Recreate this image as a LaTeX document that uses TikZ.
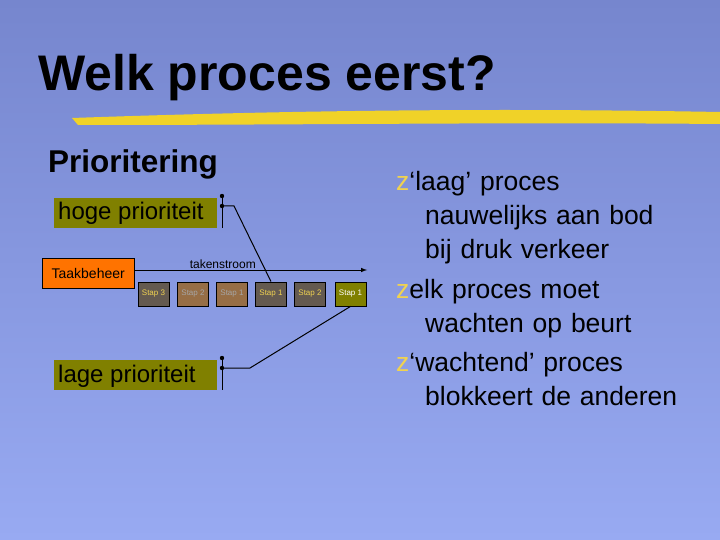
\documentclass[tikz,border=0pt]{standalone}
\usepackage{fontspec}
\setmainfont{Liberation Sans}
\begin{document}
\begin{tikzpicture}[x=1pt,y=-1pt,
 olive/.style={fill=olivebox,inner sep=0,anchor=north west},
 stapbox/.style={draw=black,line width=0.8pt,minimum width=31pt,minimum height=24pt,inner sep=0,font=\fontsize{8}{9}\selectfont},
 wire/.style={line width=1pt}]
\definecolor{bgtop}{RGB}{118,134,206}
\definecolor{bgbot}{RGB}{152,170,242}
\definecolor{olivebox}{RGB}{128,128,0}
\definecolor{stapgrey}{RGB}{100,90,80}
\definecolor{stapbrown}{RGB}{150,110,70}
\definecolor{stapyel}{RGB}{240,210,80}
\definecolor{ulyel}{RGB}{240,210,40}
\shade[top color=bgtop,bottom color=bgbot] (0,0) rectangle (720,540);
\useasboundingbox (0,0) rectangle (720,540);
\node[anchor=west,font=\bfseries\fontsize{50}{55}\selectfont,inner sep=0] (title) at (38,78) {Welk proces eerst?};
\fill[ulyel] (72,118) .. controls (300,110) and (500,108) .. (720,112) -- (720,124) .. controls (500,122) and (300,125) .. (78,125) -- cycle;
\node[anchor=west,font=\bfseries\fontsize{31.5}{35}\selectfont,inner sep=0] (prio) at (48,164) {Prioritering};
\node[olive,minimum width=163pt,minimum height=30pt] (hoge) at (54,198) {};
\node[anchor=west,font=\fontsize{24}{28}\selectfont,inner sep=0] at (58,213) {hoge prioriteit};
\node[olive,minimum width=163pt,minimum height=30pt] (lage) at (54,360) {};
\node[anchor=west,font=\fontsize{24}{28}\selectfont,inner sep=0] at (58,376) {lage prioriteit};
\node[draw=black,fill=orange!90!red,minimum width=92pt,minimum height=30pt,inner sep=0,anchor=north west,font=\fontsize{14}{16}\selectfont] (taak) at (42,258) {Taakbeheer};
\coordinate (arrowend) at (367,270);
\draw[wire,-latex] (taak.east |- 0,270) -- node[above,font=\fontsize{12}{14}\selectfont,pos=0.38,inner sep=1pt] {takenstroom} (arrowend);
\node[stapbox,fill=stapgrey,text=stapyel] (s1) at (153.5,294) {Stap 3};
\node[stapbox,fill=stapbrown,text=gray!70] (s2) at (193,294) {Stap 2};
\node[stapbox,fill=stapbrown,text=gray!70] (s3) at (232,294) {Stap 1};
\node[stapbox,fill=stapgrey,text=stapyel] (s4) at (271,294) {Stap 1};
\node[stapbox,fill=stapgrey,text=stapyel] (s5) at (310,294) {Stap 2};
\node[stapbox,fill=olivebox,text=white] (s6) at (350.5,294) {Stap 1};
% pins
\coordinate (hp) at (222,206); \coordinate (lp) at (222,368);
\draw[wire] (222,196) -- (222,228); \fill (222,196) circle (2.2); \fill (hp) circle (2.2);
\draw[wire] (222,358) -- (222,390); \fill (222,358) circle (2.2); \fill (lp) circle (2.2);
\draw[wire] (hp) -- (234,206) -- (s4.north);
\draw[wire] (lp) -- (250,368) -- (s6.south);
% bullets
\begin{scope}[every node/.style={anchor=north west,font=\fontsize{26.5}{34}\selectfont,align=left,text width=330pt,inner sep=0}]
\node (b1) at (396,171) {\textcolor{stapyel}{z}‘laag’ proces\\\hspace*{29pt}nauwelijks aan bod\\\hspace*{29pt}bij druk verkeer};
\node (b2) at (396,279) {\textcolor{stapyel}{z}elk proces moet\\\hspace*{29pt}wachten op beurt};
\node (b3) at (396,352) {\textcolor{stapyel}{z}‘wachtend’ proces\\\hspace*{29pt}blokkeert de anderen};
\end{scope}
\end{tikzpicture}
\end{document}
